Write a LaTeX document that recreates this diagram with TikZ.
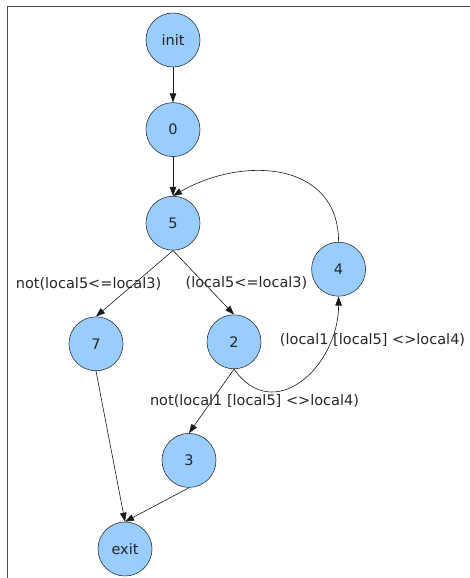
\documentclass[tikz,border=0pt]{standalone}
\usepackage{fontspec}
\setmainfont{DejaVu Sans}
\usepackage{tikz}
\usetikzlibrary{arrows.meta,positioning}
\definecolor{cfgblue}{RGB}{153,204,255}

\begin{document}
\begin{tikzpicture}[x=1pt, y=1pt, node distance=35pt,
    every node/.style={font=\fontsize{14.5}{17}\selectfont, text=black!85},
    state/.style={draw=black!80, circle, fill=cfgblue, minimum size=54pt, inner sep=0pt, line width=0.6pt},
    edge/.style={-{Triangle[length=9pt,width=6.5pt]}, black!90, line width=0.6pt}]
			\useasboundingbox (0,0) rectangle (470,-578);
			\draw[black!70, line width=0.8pt] (470,-6) -- (7,-6) -- (7,-578);
			
			\node[state] (init) at (173,-40) {init};
			\node[state, below=of init] (n0) {0};
			\node[state, below=39pt of n0] (n5) {5};
			\node[state, right=111pt of n5, yshift=-46pt] (n4) {4};
			\node[state, below=66pt of n5, xshift=-77pt] (n7) {7};
			\node[state, below=64pt of n5, xshift=61pt] (n2) {2};
			\node[state, below=64pt of n2, xshift=-45pt] (n3) {3};
			\node[state, below=34pt of n3, xshift=-64pt] (exit) {exit};
			
			\draw[edge] (init) -- (n0);
			\draw[edge] (n0) -- (n5);
			\draw[edge] (n5.south) -- node[xshift=-46pt] {not(local5<=local3)} (n7.north);
			\draw[edge] (n5.south) -- node[xshift=43pt] {(local5<=local3)} (n2.north);
			\draw[edge] (n4.north) to[out=90, in=30, looseness=1.2] (n5.north);
			\draw[edge] (n2.south) to[out=-55, in=-90, looseness=1.4]
			node[pos=0.85, xshift=38pt, yshift=-13pt] {(local1 [local5] <>local4)} (n4.south);
			\draw[edge] (n2.south) -- node[xshift=43pt] {not(local1 [local5] <>local4)} (n3.north);
			\draw[edge] (n7.south) -- (exit.north);
			\draw[edge] (n3.south) -- (exit.north);
		\end{tikzpicture}
\end{document}
